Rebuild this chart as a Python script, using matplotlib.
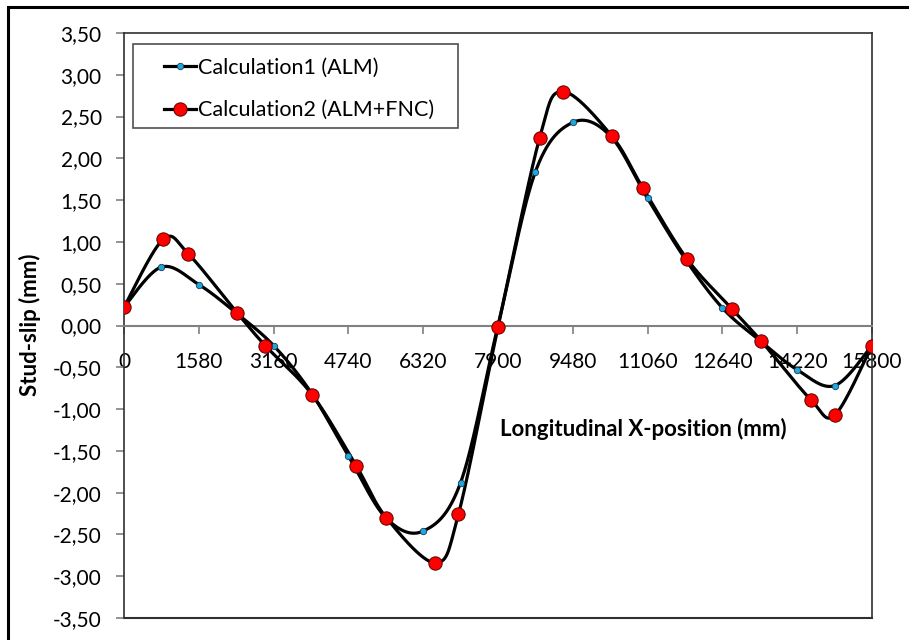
import numpy as np
import matplotlib
matplotlib.use('Agg')
import matplotlib.pyplot as plt
from matplotlib.patches import Rectangle
from matplotlib.ticker import FuncFormatter

plt.rcParams['font.family'] = ['Lato', 'DejaVu Sans']

# Calculation1 (ALM) - points every 790 mm
x1 = [0, 790, 1580, 2370, 3160, 3950, 4740, 5530, 6320, 7110, 7900,
      8690, 9480, 10270, 11060, 11850, 12640, 13430, 14220, 15010, 15800]
y1 = [0.22, 0.70, 0.49, 0.15, -0.24, -0.80, -1.56, -2.30, -2.46, -1.88, 0.00,
      1.84, 2.43, 2.27, 1.52, 0.80, 0.21, -0.18, -0.53, -0.72, -0.24]

# Calculation2 (ALM+FNC)
x2 = [0, 825, 1354, 2390, 2982, 3976, 4907, 5541, 6578, 7064, 7900,
      8777, 9264, 10300, 10956, 11887, 12839, 13452, 14510, 15017, 15800]
y2 = [0.22, 1.03, 0.86, 0.15, -0.24, -0.83, -1.68, -2.30, -2.84, -2.26, -0.02,
      2.24, 2.80, 2.27, 1.65, 0.80, 0.20, -0.18, -0.89, -1.07, -0.24]

xticks = [0, 1580, 3160, 4740, 6320, 7900, 9480, 11060, 12640, 14220, 15800]
yticks = [-3.5, -3.0, -2.5, -2.0, -1.5, -1.0, -0.5, 0.0, 0.5, 1.0, 1.5, 2.0, 2.5, 3.0, 3.5]


def excel_smooth(xs, ys, n=30):
    # bezier smoothing like excel's "smoothed line"
    p = np.column_stack([xs, ys]).astype(float)
    ext = np.vstack([p[0], p, p[-1]])
    out = []
    t = np.linspace(0, 1, n)[:, None]
    for i in range(len(p) - 1):
        p0, p1, p2, p3 = ext[i], ext[i + 1], ext[i + 2], ext[i + 3]
        b1 = p1 + (p2 - p0) / 6.0
        b2 = p2 - (p3 - p1) / 6.0
        seg = ((1 - t) ** 3) * p1 + 3 * ((1 - t) ** 2) * t * b1 + 3 * (1 - t) * t ** 2 * b2 + t ** 3 * p2
        out.append(seg if i == 0 else seg[1:])
    out = np.vstack(out)
    return out[:, 0], out[:, 1]


fig = plt.figure(figsize=(9.09, 6.40), dpi=100)
ax = fig.add_axes([124 / 909, 22 / 640, 748 / 909, 585 / 640])

sx1, sy1 = excel_smooth(x1, y1)
sx2, sy2 = excel_smooth(x2, y2)
ax.plot(sx1, sy1, color='black', lw=2.3, zorder=3)
ax.plot(sx2, sy2, color='black', lw=2.3, zorder=3)
ax.plot(x1, y1, ls='none', marker='o', ms=4.6, mfc='#1fa6dc', mec='#1a3a55', mew=0.6, zorder=4)
ax.plot(x2, y2, ls='none', marker='o', ms=9.6, mfc='#ff0000', mec='#5a0000', mew=0.7, zorder=5)

ax.set_xlim(0, 15800)
ax.set_ylim(-3.5, 3.5)
ax.set_xticks(xticks)
ax.set_yticks(yticks)
ax.xaxis.set_major_formatter(FuncFormatter(lambda v, pos: '%d' % v))
ax.yaxis.set_major_formatter(FuncFormatter(lambda v, pos: ('%.2f' % v).replace('.', ',')))

ax.spines['bottom'].set_position(('data', 0))
ax.spines['bottom'].set_color('#808080')
ax.spines['bottom'].set_linewidth(1.5)
for s in ['left', 'top', 'right']:
    ax.spines[s].set_color('#303030')
    ax.spines[s].set_linewidth(1.2)
ax.axhline(-3.5, color='#303030', lw=1.5, clip_on=False, zorder=1)

ax.tick_params(axis='x', direction='out', length=6, width=1.2, color='#808080',
               pad=13, labelsize=15, labelcolor='black')
ax.tick_params(axis='y', direction='out', length=6, width=1.2, color='#808080',
               pad=10, labelsize=15, labelcolor='black')
for lab in ax.get_xticklabels():
    lab.set_zorder(2)

ax.text(0.694, 0.323, 'Longitudinal X-position (mm)', transform=ax.transAxes,
        ha='center', va='center', fontsize=16, fontweight='bold')
fig.text(30 / 909, 1 - 325 / 640, 'Stud-slip (mm)', rotation=90, ha='center', va='center',
         fontsize=16, fontweight='bold')

# legend
h1, = ax.plot([], [], color='black', lw=2.3, marker='o', ms=4.6, mfc='#1fa6dc', mec='#1a3a55', mew=0.6)
h2, = ax.plot([], [], color='black', lw=2.3, marker='o', ms=9.6, mfc='#ff0000', mec='#5a0000', mew=0.7)
leg = ax.legend([h1, h2], ['Calculation1 (ALM)', 'Calculation2 (ALM+FNC)'],
                loc='upper left', bbox_to_anchor=(0.053, 0.958), frameon=False,
                fontsize=15.5, handlelength=1.5, handletextpad=0.1, labelspacing=1.05,
                borderaxespad=0, borderpad=0)
ax.add_patch(Rectangle((9 / 748, 1 - 95 / 585), 325 / 748, 84 / 585, transform=ax.transAxes,
                       fill=False, edgecolor='#505050', lw=1.2, zorder=6))

# chart area border
fig.patches.append(Rectangle((8 / 909, -0.1), 1.2, 1 - 7 / 640 + 0.1, transform=fig.transFigure,
                             fill=False, edgecolor='black', lw=2.2))

fig.savefig('out.png', dpi=100)
